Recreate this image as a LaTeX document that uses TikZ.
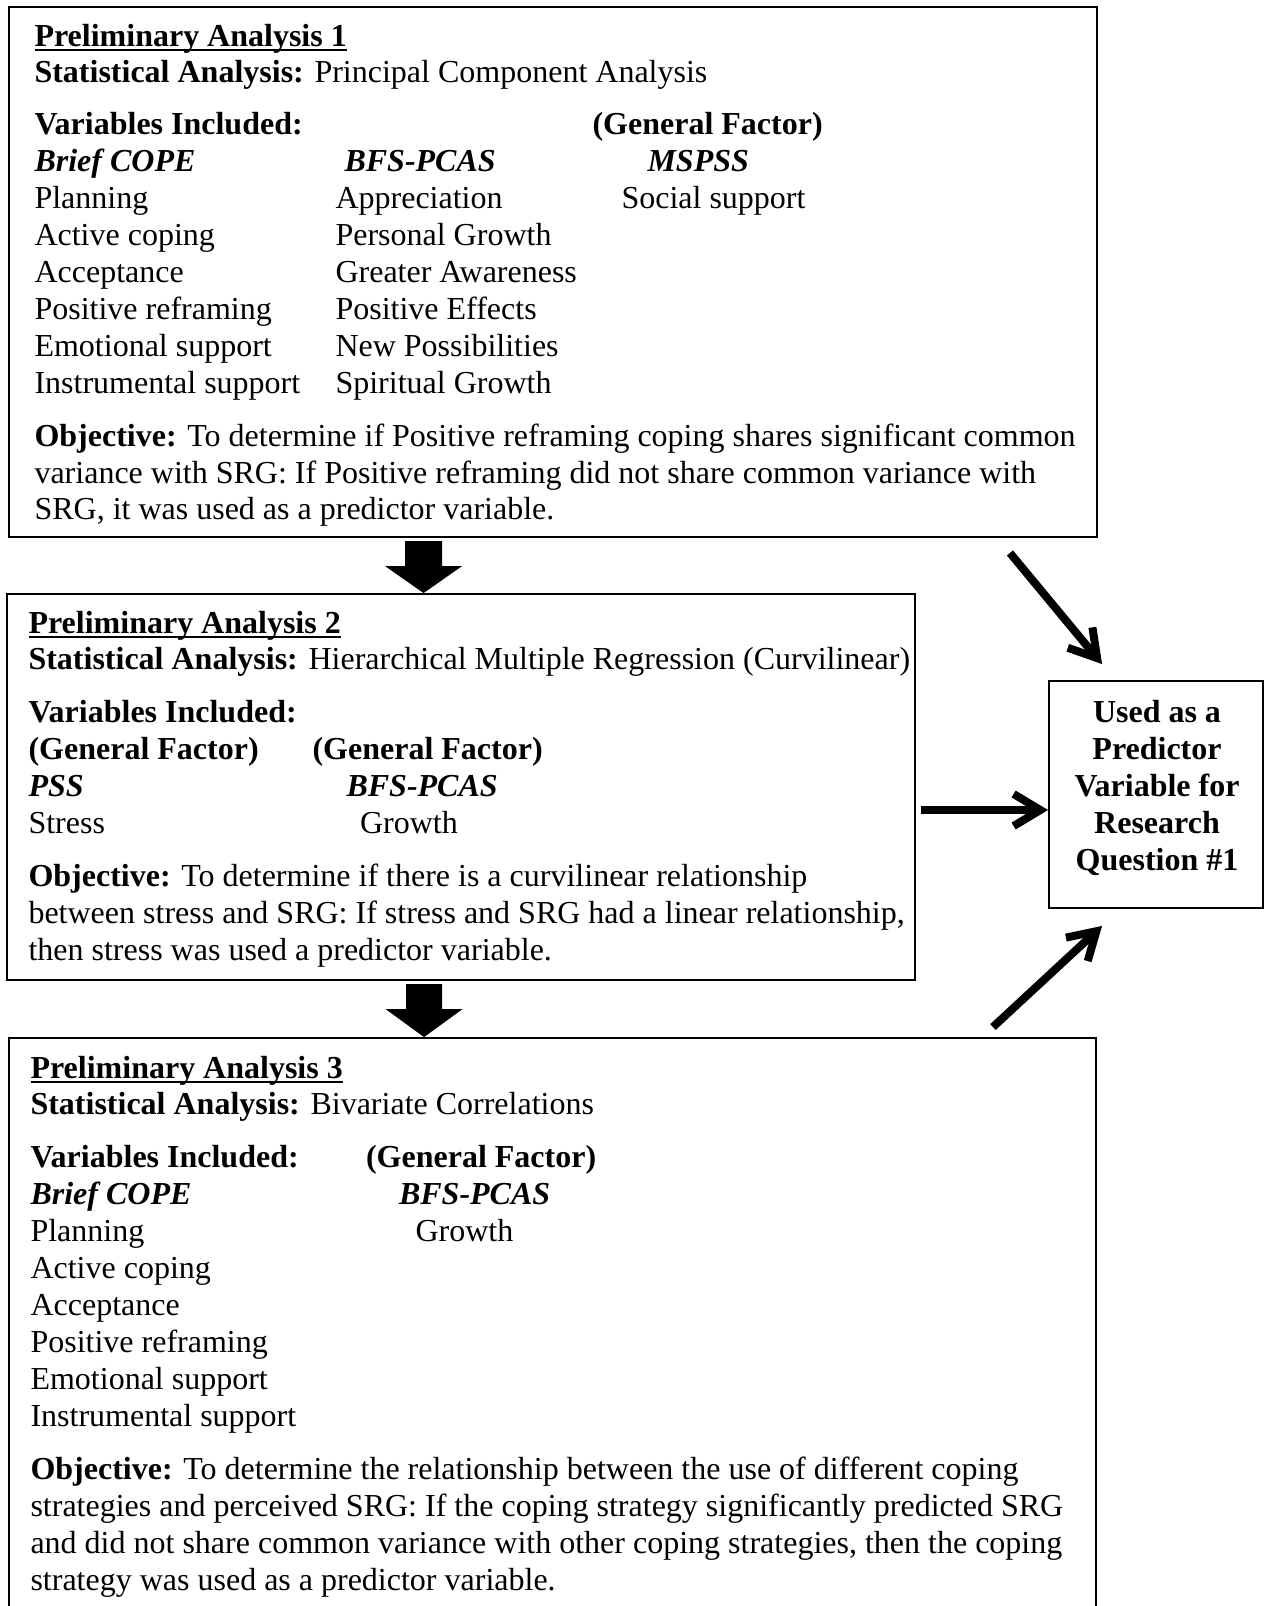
\documentclass[tikz,border=0pt]{standalone}
\usepackage{fontspec}
\setmainfont{Liberation Serif}
\usetikzlibrary{arrows.meta,calc}
\newcommand\ulbox[1]{\setbox0\hbox{#1}\rlap{\rule[-1.9pt]{\wd0}{0.8pt}}\box0}
\tikzset{
  box/.style={draw, line width=0.7pt, rectangle, inner sep=0pt, anchor=center},
  txt/.style={anchor=base west, inner sep=0pt, font=\fontsize{12}{13.8}\selectfont},
  hd/.style={txt, font=\fontsize{12}{13.8}\selectfont\bfseries},
  bi/.style={txt, font=\fontsize{12}{13.8}\selectfont\bfseries\itshape},
  link/.style={line width=3pt, -{Straight Barb[length=10pt,width=12pt]}},
  blockarrow/.style={fill=black},
}
\begin{document}
\begin{tikzpicture}[x=0.375pt, y=-0.375pt]
\useasboundingbox (0,0) rectangle (1265,1606);
\clip (0,0) rectangle (1265,1606);

% boxes
\node[box, minimum width=408pt, minimum height=198.75pt] (box1) at (553,272) {};
\node[box, minimum width=340.5pt, minimum height=144.75pt] (box2) at (461,787) {};
\node[box, minimum width=407.625pt, minimum height=225.75pt] (box3) at (552.5,1339) {};
\node[box, minimum width=80.25pt, minimum height=85.125pt] (rbox) at (1156,794.5) {};

% box 1 text
\node[txt] (a1) at (34,46) {\ulbox{\textbf{Preliminary Analysis 1}}};
\node[txt] (a2) at (34,82) {\textbf{Statistical Analysis:} Principal Component Analysis};
\node[hd] (a3) at (34,134) {Variables Included:};
\node[hd] (a4) at (592,134) {(General Factor)};
\node[bi] (a5) at (34,171) {Brief COPE};
\node[bi] (a6) at (344,171) {BFS-PCAS};
\node[bi] (a7) at (647,171) {MSPSS};
\node[txt] (a8) at (34,208) {Planning};
\node[txt] (a9) at (335,208) {Appreciation};
\node[txt] (a10) at (621,208) {Social support};
\node[txt] (a11) at (34,245) {Active coping};
\node[txt] (a12) at (335,245) {Personal Growth};
\node[txt] (a13) at (34,282) {Acceptance};
\node[txt] (a14) at (335,282) {Greater Awareness};
\node[txt] (a15) at (34,319) {Positive reframing};
\node[txt] (a16) at (335,319) {Positive Effects};
\node[txt] (a17) at (34,356) {Emotional support};
\node[txt] (a18) at (335,356) {New Possibilities};
\node[txt] (a19) at (34,393) {Instrumental support};
\node[txt] (a20) at (335,393) {Spiritual Growth};
\node[txt] (a21) at (34,446) {\textbf{Objective:} To determine if Positive reframing coping shares significant common};
\node[txt] (a22) at (34,483) {variance with SRG: If Positive reframing did not share common variance with};
\node[txt] (a23) at (34,519) {SRG, it was used as a predictor variable.};

% box 2 text
\node[txt] (b1) at (28,633) {\ulbox{\textbf{Preliminary Analysis 2}}};
\node[txt] (b2) at (28,669) {\textbf{Statistical Analysis:} Hierarchical Multiple Regression (Curvilinear)};
\node[hd] (b3) at (28,722) {Variables Included:};
\node[hd] (b4) at (28,759) {(General Factor)};
\node[hd] (b5) at (312,759) {(General Factor)};
\node[bi] (b6) at (28,796) {PSS};
\node[bi] (b7) at (346,796) {BFS-PCAS};
\node[txt] (b8) at (28,833) {Stress};
\node[txt] (b9) at (359.5,833) {Growth};
\node[txt] (b10) at (28,886) {\textbf{Objective:} To determine if there is a curvilinear relationship};
\node[txt] (b11) at (28,923) {between stress and SRG: If stress and SRG had a linear relationship,};
\node[txt] (b12) at (28,960) {then stress was used a predictor variable.};

% box 3 text
\node[txt] (c1) at (30,1078) {\ulbox{\textbf{Preliminary Analysis 3}}};
\node[txt] (c2) at (30,1114) {\textbf{Statistical Analysis:} Bivariate Correlations};
\node[hd] (c3) at (30,1167) {Variables Included:};
\node[hd] (c4) at (365.5,1167) {(General Factor)};
\node[bi] (c5) at (30,1204) {Brief COPE};
\node[bi] (c6) at (398.5,1204) {BFS-PCAS};
\node[txt] (c7) at (30,1241) {Planning};
\node[txt] (c8) at (415,1241) {Growth};
\node[txt] (c9) at (30,1278) {Active coping};
\node[txt] (c10) at (30,1315) {Acceptance};
\node[txt] (c11) at (30,1352) {Positive reframing};
\node[txt] (c12) at (30,1389) {Emotional support};
\node[txt] (c13) at (30,1426) {Instrumental support};
\node[txt] (c14) at (30,1479) {\textbf{Objective:} To determine the relationship between the use of different coping};
\node[txt] (c15) at (30,1516) {strategies and perceived SRG: If the coping strategy significantly predicted SRG};
\node[txt] (c16) at (30,1553) {and did not share common variance with other coping strategies, then the coping};
\node[txt] (c17) at (30,1590) {strategy was used as a predictor variable.};

% right box text
\node[align=center, inner sep=0pt, font=\fontsize{12}{13.8}\selectfont\bfseries] (rtext) at (1157,788)
  {Used as a\\Predictor\\Variable for\\Research\\Question \#1};

% block arrows
\fill[blockarrow] ($(box2.north west)+(417.5,0)$) -- ++(-38.5,-27) -- ++(20,0) -- ++(0,-25) -- ++(37,0) -- ++(0,25) -- ++(20,0) -- cycle;
\fill[blockarrow] ($(box3.north west)+(416,0)$) -- ++(-38.5,-28) -- ++(20.5,0) -- ++(0,-25) -- ++(36,0) -- ++(0,25) -- ++(20.5,0) -- cycle;

% line arrows
\draw[link] ($(box1.south east)+(-88,15)$) -- ($(rbox.north west)+(54,-16)$);
\draw[link] ($(box2.east)+(5,23)$) -- ($(rbox.west)+(0,15.5)$);
\draw[link] ($(box3.north east)+(-104,-10)$) -- ($(rbox.south west)+(54,17)$);
\end{tikzpicture}
\end{document}
